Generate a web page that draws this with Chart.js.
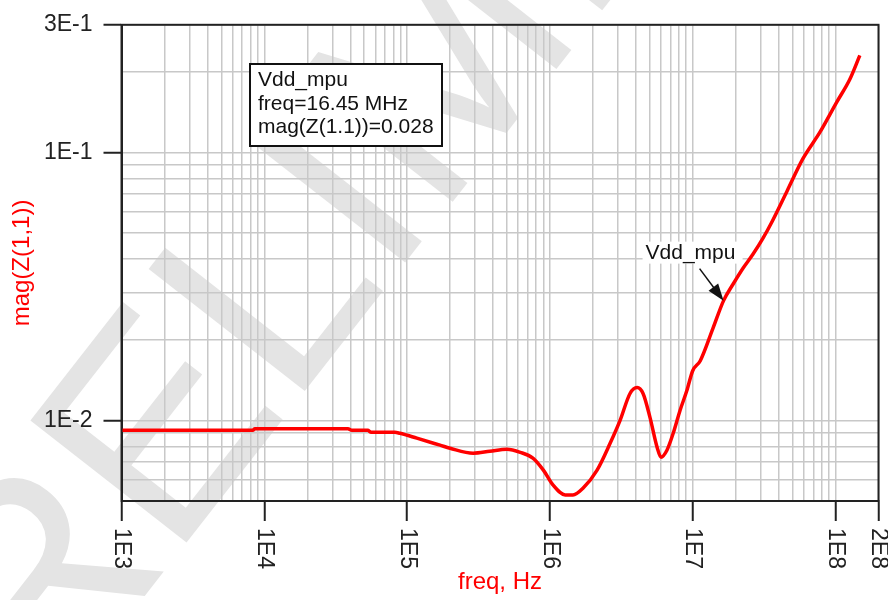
<!DOCTYPE html>
<html>
<head>
<meta charset="utf-8">
<script src="https://cdn.jsdelivr.net/npm/chart.js@4.4.0/dist/chart.umd.min.js"></script>
<style>
  html, body { margin: 0; padding: 0; background: #fff; }
  #wrap { width: 888px; height: 600px; }
</style>
</head>
<body>
<div id="wrap"><canvas id="chart" width="888" height="600"></canvas></div>
<script>
// impedance sweep of the Vdd_mpu rail
const freqHz = [1e3, 8.3e3, 8.6e3, 3.85e4, 4.1e4, 5.3e4, 5.6e4, 8.2e4, 8.9e4, 1.17e5,
  1.7e5, 2.0e5, 2.9e5, 3.8e5, 5.0e5, 6.2e5, 7.6e5, 9.0e5, 1.05e6, 1.28e6,
  1.45e6, 1.71e6, 2.14e6, 2.64e6, 3.1e6, 3.64e6, 4.08e6, 4.49e6, 5.02e6, 5.63e6,
  6.0e6, 6.6e6, 7.3e6, 8.15e6, 9.1e6, 1.0e7, 1.13e7, 1.39e7, 1.645e7, 1.92e7,
  2.25e7, 2.64e7, 3.1e7, 3.6e7, 4.6e7, 5.9e7, 7.8e7, 1.02e8, 1.26e8, 1.48e8];
const magZ = [0.00918, 0.00918, 0.00931, 0.00931, 0.00918, 0.00918, 0.00903, 0.00903, 0.00895, 0.00858,
  0.00808, 0.00787, 0.00754, 0.00767, 0.0078, 0.0076, 0.00723, 0.00652, 0.00574, 0.00527,
  0.00527, 0.00559, 0.00652, 0.00821, 0.0100, 0.0126, 0.01326, 0.0126, 0.01026, 0.00794,
  0.00729, 0.00774, 0.00895, 0.01089, 0.01292, 0.01533, 0.0167, 0.02215, 0.028, 0.0323,
  0.037, 0.0417, 0.0478, 0.0553, 0.0722, 0.0947, 0.1194, 0.1543, 0.1878, 0.2306];

const xTickValues = [1e3, 1e4, 1e5, 1e6, 1e7, 1e8, 2e8];
const xTickLabels = ['1E3', '1E4', '1E5', '1E6', '1E7', '1E8', '2E8'];
const yTickValues = [1e-2, 1e-1, 3e-1];
const yTickLabels = ['1E-2', '1E-1', '3E-1'];

const marker = { name: 'Vdd_mpu', freq: 16.45e6, mag: 0.028 };
const markerLines = ['Vdd_mpu', 'freq=16.45 MHz', 'mag(Z(1.1))=0.028'];

const FONT = 'Liberation Sans, Arial, Helvetica, sans-serif';

// 1..9 per decade between min and max
function logGrid(min, max) {
  const out = [];
  for (let e = Math.floor(Math.log10(min)); e <= Math.ceil(Math.log10(max)); e++) {
    for (let k = 1; k <= 9; k++) {
      const v = k * Math.pow(10, e);
      if (v >= min * 0.999 && v <= max * 1.001) out.push(v);
    }
  }
  return out;
}
const xGrid = logGrid(1e3, 2e8);
const yGrid = logGrid(5e-3, 3e-1);

const same = (a, b) => Math.abs(Math.log10(a / b)) < 1e-6;
const indexOfTick = (list, v) => list.findIndex(t => same(t, v));

const decor = {
  id: 'decor',
  beforeDraw(chart) {
    const ctx = chart.ctx;
    ctx.save();
    ctx.fillStyle = '#fff';
    ctx.fillRect(0, 0, chart.width, chart.height);
    // watermark, anchored at the baseline start of the "E"
    ctx.font = '288px ' + FONT;
    ctx.translate(172, 561);
    ctx.rotate(-52 * Math.PI / 180);
    ctx.fillStyle = '#e4e4e4';
    ctx.textAlign = 'left';
    ctx.textBaseline = 'alphabetic';
    ctx.fillText('PRELIMINARY', -ctx.measureText('PR').width, 0);
    ctx.restore();
  },
  afterDraw(chart) {
    const ctx = chart.ctx;
    const a = chart.chartArea;
    const xs = chart.scales.x, ys = chart.scales.y;
    ctx.save();
    // frame
    ctx.strokeStyle = '#222';
    ctx.lineWidth = 2;
    ctx.strokeRect(a.left, a.top, a.right - a.left, a.bottom - a.top);

    // rotated frequency labels
    ctx.fillStyle = '#222';
    ctx.font = '23px ' + FONT;
    ctx.textAlign = 'left';
    ctx.textBaseline = 'middle';
    xTickValues.forEach((v, i) => {
      const px = xs.getPixelForValue(v);
      ctx.save();
      ctx.translate(px, a.bottom + 27);
      ctx.rotate(Math.PI / 2);
      ctx.fillText(xTickLabels[i], 0, 0);
      ctx.restore();
    });

    // marker readout box
    ctx.fillStyle = '#fff';
    ctx.fillRect(250, 64, 192, 82);
    ctx.strokeStyle = '#111';
    ctx.lineWidth = 2;
    ctx.strokeRect(250, 64, 192, 82);
    ctx.fillStyle = '#111';
    ctx.textBaseline = 'alphabetic';
    ctx.font = '21px ' + FONT;
    markerLines.forEach((t, i) => ctx.fillText(t, 258, 86 + i * 23.5));

    // trace label with arrow to the marker point
    const tx = xs.getPixelForValue(marker.freq);
    const ty = ys.getPixelForValue(marker.mag);
    ctx.fillStyle = '#fff';
    ctx.fillRect(tx - 81, ty - 59, 100, 22);
    ctx.fillStyle = '#111';
    ctx.fillText(marker.name, tx - 78, ty - 42);
    const sx = tx - 24, sy = ty - 32;
    const ang = Math.atan2(ty - sy, tx - sx);
    ctx.strokeStyle = '#111';
    ctx.lineWidth = 1.5;
    ctx.beginPath();
    ctx.moveTo(sx, sy);
    ctx.lineTo(tx - 14 * Math.cos(ang), ty - 14 * Math.sin(ang));
    ctx.stroke();
    ctx.beginPath();
    ctx.moveTo(tx, ty);
    ctx.lineTo(tx - 17 * Math.cos(ang) + 6 * Math.sin(ang), ty - 17 * Math.sin(ang) - 6 * Math.cos(ang));
    ctx.lineTo(tx - 17 * Math.cos(ang) - 6 * Math.sin(ang), ty - 17 * Math.sin(ang) + 6 * Math.cos(ang));
    ctx.closePath();
    ctx.fill();
    ctx.restore();
  }
};

new Chart(document.getElementById('chart'), {
  type: 'line',
  data: {
    datasets: [{
      label: marker.name,
      data: freqHz.map((f, i) => ({ x: f, y: magZ[i] })),
      borderColor: '#ff0000',
      borderWidth: 3.5,
      pointRadius: 0,
      cubicInterpolationMode: 'monotone',
      fill: false
    }]
  },
  options: {
    responsive: false,
    animation: false,
    layout: { padding: { top: 21, right: 9.5, left: 0, bottom: 0 } },
    plugins: { legend: { display: false }, tooltip: { enabled: false } },
    scales: {
      x: {
        type: 'logarithmic',
        min: 1e3,
        max: 2e8,
        afterBuildTicks: s => { s.ticks = xGrid.map(v => ({ value: v })); },
        afterFit: s => { s.height = 99; },
        ticks: { display: false, autoSkip: false },
        grid: {
          color: '#c8c8c8',
          lineWidth: 1.5,
          drawTicks: true,
          tickLength: 20,
          tickWidth: 2,
          tickColor: c => (c.tick && indexOfTick(xTickValues, c.tick.value) >= 0) ? '#222' : 'rgba(0,0,0,0)'
        },
        border: { display: true, color: '#222', width: 2 },
        title: {
          display: true,
          text: 'freq, Hz',
          color: '#ff0000',
          font: { family: FONT, size: 24 },
          padding: { top: 0, bottom: 3 }
        }
      },
      y: {
        type: 'logarithmic',
        min: 5e-3,
        max: 3e-1,
        afterBuildTicks: s => { s.ticks = yGrid.map(v => ({ value: v })); },
        afterFit: s => { s.width = 121.5; },
        ticks: {
          autoSkip: false,
          padding: 11,
          color: '#222',
          font: { family: FONT, size: 23 },
          callback: v => { const i = indexOfTick(yTickValues, v); return i >= 0 ? yTickLabels[i] : ''; }
        },
        grid: {
          color: '#c8c8c8',
          lineWidth: 1.5,
          drawTicks: true,
          tickLength: 18,
          tickWidth: 2,
          tickColor: c => (c.tick && indexOfTick(yTickValues, c.tick.value) >= 0) ? '#222' : 'rgba(0,0,0,0)'
        },
        border: { display: true, color: '#222', width: 2 },
        title: {
          display: true,
          text: 'mag(Z(1,1))',
          color: '#ff0000',
          font: { family: FONT, size: 24 },
          padding: { top: 8, bottom: 0 }
        }
      }
    }
  },
  plugins: [decor]
});
</script>
</body>
</html>
